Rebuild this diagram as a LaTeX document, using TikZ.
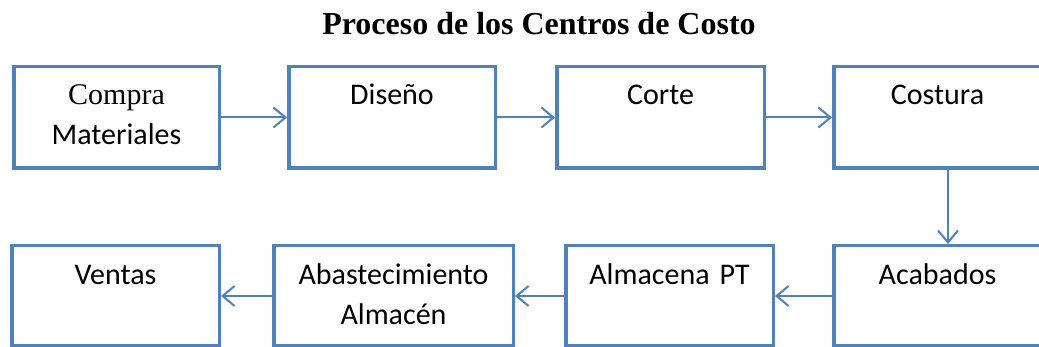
\documentclass[tikz,border=0pt]{standalone}
\usepackage{fontspec}
\setmainfont{Carlito}
\newfontfamily\tnr{Liberation Serif}
\usetikzlibrary{arrows.meta}
\definecolor{azul}{HTML}{4F81BD}
\begin{document}
\begin{tikzpicture}[x=1pt,y=-1pt,
    caja/.style={draw=azul,line width=3.5pt,inner sep=0pt,anchor=base,align=center,
      text height=38.25pt,text depth=63.25pt,font=\fontsize{30}{40}\selectfont},
    cajab/.style={caja,text height=39.25pt,text depth=61.25pt},
    flecha/.style={draw=azul,line width=2pt,-{Straight Barb[length=12pt,width=20pt]}}]
    \useasboundingbox (0,0) rectangle (1039,347);
    \node[anchor=base,font=\tnr\bfseries\fontsize{32}{36}\selectfont] (titulo) at (539,35) {Proceso de los Centros de Costo};
    \node[caja,text width=205.5pt] (compra) at (116.5,105) {{\tnr Compra}\\Materiales};
    \node[caja,text width=206.5pt] (diseno) at (392,105) {Diseño};
    \node[caja,text width=207.5pt] (corte) at (660.5,105) {Corte};
    \node[caja,text width=207.5pt] (costura) at (937.5,105) {Costura};
    \node[cajab,text width=207.5pt] (acabados) at (937.5,285) {Acabados};
    \node[cajab,text width=207.5pt] (almacena) at (669.5,285) {Almacena PT};
    \node[cajab,text width=239.5pt] (abast) at (393.5,285) {Abastecimiento\\Almacén};
    \node[cajab,text width=207.5pt] (ventas) at (115.5,285) {Ventas};
    \draw[flecha] (compra) -- (diseno);
    \draw[flecha] (diseno) -- (corte);
    \draw[flecha] (corte) -- (costura);
    \draw[flecha] ([xshift=10.5pt]costura.south) -- ([xshift=10.5pt]acabados.north);
    \draw[flecha] (acabados) -- (almacena);
    \draw[flecha] (almacena) -- (abast);
    \draw[flecha] (abast) -- (ventas);
\end{tikzpicture}
\end{document}
